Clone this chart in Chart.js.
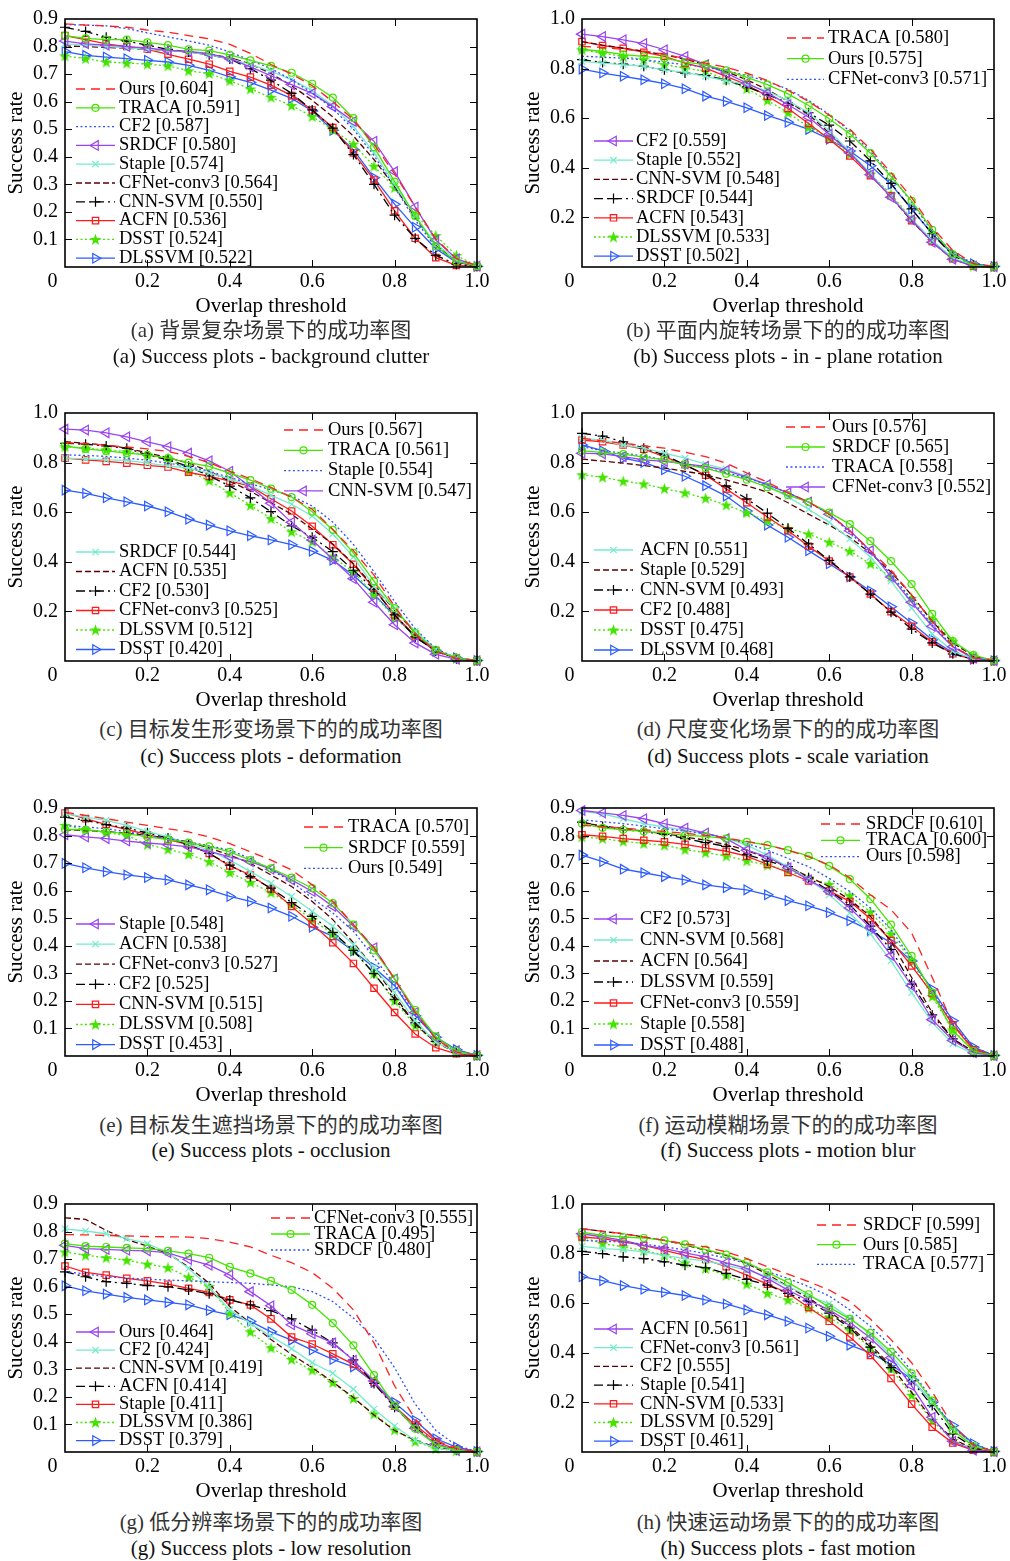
<!DOCTYPE html>
<html>
<head>
<meta charset="utf-8">
<script src="https://cdn.jsdelivr.net/npm/chart.js@4/dist/chart.umd.min.js"></script>
<style>
  body { margin: 0; background: #fff; width: 1010px; height: 1561px; position: relative; overflow: hidden; }
  canvas { position: absolute; }
  .cap { position: absolute; width: 412px; text-align: center; font-size: 21px; line-height: 26px; white-space: nowrap;
         font-family: "Liberation Serif", "Noto Sans CJK SC", serif; color: #111; }
  .zh { color: #333; }
</style>
</head>
<body>
<script>
// thresholds on the x axis
var thresholds = [0, 0.05, 0.1, 0.15, 0.2, 0.25, 0.3, 0.35, 0.4, 0.45, 0.5, 0.55, 0.6, 0.65, 0.7, 0.75, 0.8, 0.85, 0.9, 0.95, 1.0];

// (a) background clutter
var aNames = ['Ours', 'TRACA', 'CF2', 'SRDCF', 'Staple', 'CFNet-conv3', 'CNN-SVM', 'ACFN', 'DSST', 'DLSSVM'];
var aScores = ['0.604', '0.591', '0.587', '0.580', '0.574', '0.564', '0.550', '0.536', '0.524', '0.522'];
var aValues = [
  [0.882,0.878,0.875,0.870,0.860,0.852,0.840,0.828,0.808,0.775,0.735,0.700,0.658,0.600,0.535,0.445,0.338,0.218,0.102,0.030,0.005],
  [0.840,0.830,0.825,0.825,0.815,0.805,0.790,0.785,0.770,0.750,0.730,0.705,0.665,0.615,0.540,0.435,0.310,0.185,0.075,0.020,0.003],
  [0.880,0.878,0.875,0.865,0.850,0.835,0.820,0.805,0.780,0.750,0.720,0.680,0.632,0.575,0.500,0.405,0.290,0.170,0.072,0.020,0.004],
  [0.820,0.810,0.805,0.800,0.795,0.786,0.782,0.774,0.756,0.726,0.694,0.662,0.630,0.582,0.528,0.456,0.346,0.218,0.098,0.030,0.003],
  [0.810,0.805,0.800,0.795,0.790,0.785,0.780,0.770,0.755,0.735,0.710,0.680,0.640,0.585,0.510,0.415,0.300,0.185,0.085,0.025,0.003],
  [0.802,0.800,0.797,0.794,0.790,0.786,0.780,0.772,0.760,0.737,0.702,0.658,0.605,0.545,0.475,0.390,0.292,0.180,0.080,0.020,0.002],
  [0.870,0.855,0.834,0.820,0.805,0.790,0.780,0.770,0.755,0.720,0.678,0.630,0.570,0.504,0.408,0.300,0.188,0.104,0.042,0.010,0.002],
  [0.840,0.825,0.810,0.800,0.790,0.772,0.754,0.736,0.710,0.689,0.660,0.622,0.570,0.506,0.414,0.316,0.204,0.104,0.034,0.006,0.001],
  [0.766,0.756,0.744,0.740,0.736,0.730,0.712,0.702,0.676,0.646,0.616,0.586,0.546,0.498,0.446,0.366,0.288,0.192,0.114,0.042,0.004],
  [0.782,0.768,0.762,0.756,0.750,0.744,0.732,0.714,0.690,0.670,0.642,0.612,0.566,0.496,0.426,0.324,0.228,0.144,0.066,0.018,0.002]
];

// (b) in-plane rotation
var bNames = ['TRACA', 'Ours', 'CFNet-conv3', 'CF2', 'Staple', 'CNN-SVM', 'SRDCF', 'ACFN', 'DLSSVM', 'DSST'];
var bScores = ['0.580', '0.575', '0.571', '0.559', '0.552', '0.548', '0.544', '0.543', '0.533', '0.502'];
var bValues = [
  [0.890,0.885,0.878,0.870,0.858,0.840,0.822,0.805,0.782,0.752,0.712,0.668,0.612,0.555,0.475,0.380,0.280,0.160,0.067,0.013,0.002],
  [0.878,0.869,0.856,0.849,0.842,0.826,0.816,0.793,0.765,0.735,0.698,0.651,0.598,0.537,0.459,0.365,0.267,0.150,0.051,0.006,0.002],
  [0.850,0.846,0.842,0.835,0.826,0.816,0.806,0.790,0.772,0.748,0.717,0.672,0.615,0.548,0.466,0.370,0.260,0.145,0.055,0.015,0.002],
  [0.939,0.929,0.916,0.901,0.876,0.849,0.816,0.782,0.742,0.702,0.655,0.604,0.535,0.461,0.372,0.281,0.190,0.100,0.031,0.004,0.001],
  [0.829,0.822,0.816,0.809,0.795,0.785,0.769,0.751,0.735,0.709,0.671,0.622,0.548,0.465,0.377,0.283,0.194,0.107,0.036,0.007,0.001],
  [0.909,0.895,0.882,0.870,0.856,0.838,0.816,0.788,0.755,0.715,0.668,0.615,0.541,0.461,0.374,0.281,0.187,0.100,0.031,0.004,0.001],
  [0.836,0.825,0.818,0.809,0.795,0.782,0.773,0.753,0.726,0.695,0.662,0.622,0.572,0.508,0.428,0.337,0.234,0.134,0.047,0.007,0.001],
  [0.909,0.893,0.882,0.866,0.849,0.822,0.802,0.769,0.735,0.689,0.639,0.579,0.515,0.448,0.368,0.287,0.187,0.103,0.033,0.004,0.001],
  [0.876,0.862,0.849,0.836,0.816,0.802,0.789,0.755,0.719,0.672,0.622,0.564,0.521,0.455,0.374,0.294,0.194,0.107,0.037,0.004,0.001],
  [0.798,0.782,0.769,0.755,0.739,0.719,0.689,0.668,0.642,0.611,0.584,0.555,0.515,0.468,0.408,0.334,0.234,0.134,0.051,0.013,0.002]
];

// (c) deformation
var cNames = ['Ours', 'TRACA', 'Staple', 'CNN-SVM', 'SRDCF', 'ACFN', 'CF2', 'CFNet-conv3', 'DLSSVM', 'DSST'];
var cScores = ['0.567', '0.561', '0.554', '0.547', '0.544', '0.535', '0.530', '0.525', '0.512', '0.420'];
var cValues = [
  [0.880,0.876,0.870,0.863,0.855,0.845,0.825,0.800,0.765,0.735,0.700,0.660,0.612,0.530,0.445,0.346,0.220,0.110,0.040,0.010,0.002],
  [0.867,0.855,0.847,0.838,0.831,0.818,0.800,0.785,0.758,0.729,0.695,0.661,0.602,0.529,0.436,0.322,0.213,0.113,0.043,0.013,0.002],
  [0.831,0.829,0.825,0.818,0.810,0.798,0.785,0.765,0.740,0.715,0.690,0.665,0.625,0.560,0.470,0.360,0.240,0.130,0.050,0.012,0.002],
  [0.935,0.931,0.920,0.904,0.884,0.864,0.838,0.807,0.765,0.702,0.636,0.559,0.488,0.410,0.332,0.237,0.146,0.073,0.027,0.007,0.001],
  [0.818,0.815,0.811,0.809,0.798,0.787,0.778,0.758,0.734,0.707,0.668,0.632,0.585,0.512,0.420,0.300,0.210,0.120,0.047,0.013,0.002],
  [0.884,0.878,0.871,0.858,0.840,0.820,0.798,0.765,0.725,0.685,0.638,0.592,0.532,0.472,0.392,0.299,0.206,0.113,0.043,0.011,0.001],
  [0.878,0.874,0.867,0.858,0.831,0.811,0.785,0.747,0.705,0.658,0.602,0.545,0.499,0.441,0.366,0.290,0.186,0.097,0.040,0.009,0.001],
  [0.818,0.811,0.805,0.798,0.789,0.782,0.761,0.745,0.725,0.705,0.654,0.605,0.543,0.469,0.390,0.293,0.186,0.102,0.043,0.011,0.001],
  [0.864,0.858,0.851,0.844,0.831,0.818,0.765,0.727,0.678,0.628,0.574,0.521,0.481,0.419,0.359,0.269,0.173,0.106,0.043,0.011,0.001],
  [0.689,0.676,0.658,0.642,0.625,0.602,0.572,0.548,0.525,0.505,0.488,0.469,0.443,0.406,0.346,0.269,0.182,0.097,0.040,0.013,0.002]
];

// (d) scale variation
var dNames = ['Ours', 'SRDCF', 'TRACA', 'CFNet-conv3', 'ACFN', 'Staple', 'CNN-SVM', 'CF2', 'DSST', 'DLSSVM'];
var dScores = ['0.576', '0.565', '0.558', '0.552', '0.551', '0.529', '0.493', '0.488', '0.475', '0.468'];
var dValues = [
  [0.898,0.888,0.878,0.868,0.858,0.842,0.824,0.798,0.758,0.721,0.678,0.641,0.592,0.525,0.445,0.366,0.266,0.160,0.060,0.013,0.002],
  [0.848,0.840,0.834,0.822,0.811,0.791,0.778,0.755,0.731,0.701,0.669,0.641,0.598,0.552,0.483,0.403,0.310,0.190,0.080,0.024,0.002],
  [0.864,0.848,0.838,0.827,0.811,0.795,0.778,0.760,0.738,0.711,0.678,0.641,0.592,0.519,0.439,0.350,0.246,0.146,0.060,0.013,0.002],
  [0.838,0.835,0.824,0.811,0.805,0.795,0.785,0.769,0.741,0.711,0.678,0.641,0.592,0.525,0.445,0.339,0.237,0.140,0.057,0.011,0.001],
  [0.898,0.891,0.871,0.858,0.838,0.818,0.794,0.774,0.745,0.707,0.662,0.612,0.559,0.492,0.419,0.322,0.213,0.109,0.040,0.009,0.001],
  [0.814,0.806,0.798,0.788,0.778,0.765,0.751,0.730,0.707,0.681,0.638,0.592,0.548,0.499,0.435,0.359,0.266,0.160,0.073,0.020,0.002],
  [0.918,0.907,0.884,0.858,0.831,0.791,0.751,0.705,0.654,0.596,0.535,0.472,0.406,0.339,0.270,0.197,0.129,0.073,0.029,0.007,0.001],
  [0.891,0.884,0.871,0.854,0.824,0.791,0.749,0.694,0.638,0.581,0.525,0.463,0.403,0.339,0.270,0.199,0.140,0.077,0.029,0.007,0.001],
  [0.751,0.741,0.725,0.714,0.695,0.678,0.656,0.629,0.598,0.565,0.535,0.512,0.479,0.443,0.392,0.339,0.253,0.166,0.080,0.020,0.002],
  [0.871,0.848,0.818,0.801,0.771,0.745,0.707,0.665,0.605,0.548,0.499,0.445,0.392,0.339,0.282,0.219,0.153,0.086,0.033,0.007,0.001]
];

// (e) occlusion
var eNames = ['TRACA', 'SRDCF', 'Ours', 'Staple', 'ACFN', 'CFNet-conv3', 'CF2', 'CNN-SVM', 'DLSSVM', 'DSST'];
var eScores = ['0.570', '0.559', '0.549', '0.548', '0.538', '0.527', '0.525', '0.515', '0.508', '0.453'];
var eValues = [
  [0.885,0.873,0.861,0.849,0.837,0.825,0.813,0.795,0.771,0.741,0.711,0.675,0.621,0.561,0.477,0.393,0.279,0.158,0.062,0.014,0.002],
  [0.822,0.821,0.813,0.807,0.795,0.785,0.774,0.761,0.741,0.711,0.681,0.647,0.609,0.555,0.477,0.383,0.281,0.167,0.071,0.018,0.002],
  [0.837,0.831,0.825,0.814,0.801,0.789,0.777,0.763,0.747,0.717,0.675,0.633,0.573,0.519,0.453,0.357,0.261,0.152,0.068,0.020,0.002],
  [0.803,0.795,0.789,0.780,0.773,0.767,0.759,0.743,0.723,0.705,0.678,0.639,0.597,0.543,0.471,0.393,0.279,0.158,0.068,0.020,0.002],
  [0.879,0.867,0.855,0.837,0.815,0.795,0.771,0.747,0.711,0.669,0.627,0.579,0.525,0.471,0.405,0.321,0.230,0.128,0.050,0.014,0.002],
  [0.821,0.818,0.815,0.808,0.801,0.790,0.777,0.755,0.729,0.699,0.657,0.615,0.561,0.495,0.411,0.321,0.218,0.116,0.048,0.014,0.002],
  [0.867,0.855,0.840,0.827,0.810,0.791,0.767,0.735,0.693,0.651,0.609,0.557,0.507,0.449,0.383,0.299,0.206,0.120,0.053,0.014,0.002],
  [0.882,0.861,0.840,0.822,0.803,0.785,0.767,0.735,0.690,0.657,0.606,0.543,0.479,0.411,0.336,0.246,0.158,0.080,0.030,0.008,0.001],
  [0.837,0.822,0.810,0.801,0.767,0.750,0.732,0.705,0.666,0.630,0.593,0.549,0.495,0.443,0.383,0.299,0.200,0.110,0.050,0.014,0.002],
  [0.699,0.683,0.669,0.657,0.648,0.639,0.621,0.603,0.579,0.561,0.537,0.507,0.467,0.435,0.381,0.321,0.255,0.146,0.068,0.023,0.002]
];

// (f) motion blur
var fNames = ['SRDCF', 'TRACA', 'Ours', 'CF2', 'CNN-SVM', 'ACFN', 'DLSSVM', 'CFNet-conv3', 'Staple', 'DSST'];
var fScores = ['0.610', '0.600', '0.598', '0.573', '0.568', '0.564', '0.559', '0.559', '0.558', '0.488'];
var fValues = [
  [0.837,0.832,0.827,0.821,0.815,0.808,0.801,0.791,0.779,0.765,0.747,0.723,0.693,0.647,0.585,0.531,0.447,0.285,0.116,0.026,0.002],
  [0.843,0.828,0.821,0.815,0.810,0.801,0.797,0.789,0.777,0.765,0.747,0.726,0.690,0.642,0.570,0.477,0.363,0.230,0.092,0.018,0.002],
  [0.857,0.850,0.843,0.834,0.825,0.816,0.807,0.790,0.771,0.747,0.717,0.687,0.645,0.597,0.537,0.459,0.351,0.236,0.116,0.032,0.002],
  [0.891,0.882,0.873,0.861,0.843,0.827,0.809,0.789,0.747,0.723,0.683,0.639,0.597,0.537,0.465,0.365,0.255,0.132,0.056,0.012,0.001],
  [0.888,0.879,0.861,0.843,0.831,0.819,0.807,0.791,0.765,0.729,0.687,0.642,0.585,0.519,0.443,0.345,0.230,0.122,0.044,0.008,0.001],
  [0.846,0.835,0.825,0.816,0.807,0.795,0.783,0.767,0.747,0.717,0.687,0.651,0.615,0.567,0.507,0.417,0.285,0.158,0.062,0.017,0.002],
  [0.849,0.833,0.821,0.815,0.804,0.789,0.774,0.761,0.731,0.708,0.687,0.647,0.599,0.549,0.471,0.387,0.261,0.149,0.062,0.014,0.002],
  [0.803,0.797,0.789,0.783,0.777,0.768,0.755,0.743,0.725,0.695,0.666,0.635,0.599,0.561,0.498,0.419,0.327,0.227,0.113,0.023,0.002],
  [0.795,0.789,0.779,0.771,0.765,0.749,0.738,0.726,0.708,0.693,0.671,0.647,0.623,0.582,0.522,0.443,0.345,0.216,0.095,0.020,0.002],
  [0.729,0.705,0.678,0.665,0.651,0.639,0.621,0.611,0.603,0.585,0.564,0.545,0.521,0.491,0.455,0.411,0.345,0.242,0.128,0.032,0.002]
];

// (g) low resolution
var gNames = ['CFNet-conv3', 'TRACA', 'SRDCF', 'Ours', 'CF2', 'CNN-SVM', 'ACFN', 'Staple', 'DLSSVM', 'DSST'];
var gScores = ['0.555', '0.495', '0.480', '0.464', '0.424', '0.419', '0.414', '0.411', '0.386', '0.379'];
var gValues = [
  [0.789,0.788,0.786,0.784,0.782,0.781,0.780,0.774,0.762,0.744,0.714,0.687,0.651,0.594,0.516,0.396,0.240,0.120,0.042,0.012,0.002],
  [0.756,0.747,0.744,0.741,0.738,0.730,0.720,0.705,0.672,0.648,0.621,0.588,0.534,0.468,0.387,0.279,0.168,0.084,0.026,0.006,0.001],
  [0.654,0.646,0.636,0.631,0.627,0.624,0.621,0.618,0.615,0.612,0.606,0.600,0.582,0.546,0.486,0.414,0.306,0.174,0.078,0.024,0.002],
  [0.750,0.738,0.735,0.732,0.730,0.723,0.699,0.678,0.642,0.582,0.531,0.462,0.429,0.396,0.333,0.258,0.166,0.086,0.030,0.006,0.001],
  [0.810,0.802,0.792,0.774,0.756,0.723,0.666,0.598,0.516,0.466,0.420,0.375,0.324,0.286,0.228,0.156,0.094,0.042,0.014,0.004,0.001],
  [0.850,0.844,0.804,0.771,0.747,0.720,0.672,0.612,0.528,0.468,0.408,0.354,0.306,0.254,0.198,0.134,0.078,0.042,0.018,0.004,0.001],
  [0.654,0.636,0.618,0.612,0.604,0.600,0.588,0.574,0.552,0.534,0.513,0.483,0.442,0.396,0.334,0.249,0.162,0.090,0.030,0.006,0.001],
  [0.675,0.652,0.642,0.630,0.621,0.609,0.594,0.579,0.552,0.534,0.483,0.417,0.392,0.356,0.318,0.252,0.166,0.098,0.038,0.010,0.001],
  [0.726,0.714,0.705,0.696,0.682,0.669,0.634,0.600,0.504,0.436,0.378,0.336,0.297,0.252,0.194,0.138,0.080,0.038,0.012,0.004,0.001],
  [0.603,0.585,0.573,0.561,0.552,0.543,0.534,0.514,0.498,0.474,0.436,0.406,0.370,0.336,0.309,0.252,0.180,0.114,0.048,0.018,0.002]
];

// (h) fast motion
var hNames = ['SRDCF', 'Ours', 'TRACA', 'ACFN', 'CFNet-conv3', 'CF2', 'Staple', 'CNN-SVM', 'DLSSVM', 'DSST'];
var hScores = ['0.599', '0.585', '0.577', '0.561', '0.561', '0.555', '0.541', '0.533', '0.529', '0.461'];
var hValues = [
  [0.900,0.890,0.880,0.867,0.853,0.840,0.827,0.807,0.780,0.747,0.717,0.687,0.653,0.607,0.536,0.453,0.360,0.243,0.107,0.027,0.002],
  [0.887,0.873,0.867,0.863,0.853,0.837,0.816,0.796,0.764,0.724,0.683,0.636,0.583,0.537,0.480,0.404,0.317,0.207,0.089,0.023,0.002],
  [0.853,0.850,0.847,0.838,0.827,0.815,0.800,0.782,0.760,0.727,0.700,0.667,0.629,0.573,0.507,0.427,0.327,0.213,0.100,0.033,0.002],
  [0.880,0.867,0.853,0.833,0.820,0.803,0.787,0.763,0.740,0.700,0.653,0.611,0.573,0.523,0.460,0.380,0.267,0.140,0.043,0.007,0.001],
  [0.829,0.820,0.816,0.807,0.793,0.780,0.771,0.753,0.733,0.707,0.667,0.629,0.597,0.540,0.473,0.389,0.293,0.200,0.100,0.027,0.002],
  [0.900,0.890,0.880,0.867,0.853,0.835,0.813,0.793,0.760,0.717,0.667,0.620,0.567,0.507,0.433,0.347,0.240,0.133,0.053,0.013,0.001],
  [0.809,0.800,0.787,0.780,0.767,0.753,0.743,0.720,0.696,0.673,0.640,0.607,0.560,0.500,0.423,0.340,0.287,0.187,0.073,0.020,0.002],
  [0.867,0.860,0.847,0.833,0.813,0.793,0.776,0.747,0.713,0.677,0.640,0.583,0.527,0.464,0.389,0.297,0.193,0.100,0.036,0.007,0.001],
  [0.867,0.840,0.827,0.813,0.793,0.763,0.740,0.713,0.677,0.640,0.613,0.580,0.543,0.491,0.420,0.336,0.229,0.127,0.047,0.013,0.001],
  [0.707,0.691,0.671,0.656,0.644,0.631,0.613,0.597,0.573,0.553,0.527,0.500,0.467,0.431,0.400,0.353,0.293,0.200,0.107,0.033,0.002]
];

// green pentagram marker (MATLAB 'p')
function starImage(color) {
  var c = document.createElement('canvas');
  c.width = 13; c.height = 13;
  var g = c.getContext('2d');
  g.beginPath();
  for (var k = 0; k < 10; k++) {
    var r = k % 2 ? 2.5 : 6.2;
    var ang = -Math.PI / 2 + k * Math.PI / 5;
    var px = 6.5 + r * Math.cos(ang), py = 6.9 + r * Math.sin(ang);
    if (k) g.lineTo(px, py); else g.moveTo(px, py);
  }
  g.closePath();
  g.fillStyle = color;
  g.fill();
  return c;
}

var green = '#44e400';
// one style per legend rank
var lineStyles = [
  { color: '#ff2020', dash: [9, 6], point: 'circle', radius: 0 },
  { color: green, dash: [], point: 'circle', radius: 3.5 },
  { color: '#3050ff', dash: [2, 2.5], point: 'circle', radius: 0 },
  { color: '#9a44f0', dash: [], point: 'triangle', rot: -90, radius: 5.5 },
  { color: '#74eccb', dash: [], point: 'crossRot', radius: 4.5 },
  { color: '#5a0000', dash: [6, 3], point: 'circle', radius: 0 },
  { color: '#000000', dash: [9, 4, 2, 4], point: 'cross', radius: 5 },
  { color: '#ff1a1a', dash: [], point: 'rect', radius: 4.5 },
  { color: green, dash: [2, 2.5], point: starImage(green), radius: 5 },
  { color: '#2c5cff', dash: [], point: 'triangle', rot: 90, radius: 5.5 }
];

var panels = [
  { names: aNames, scores: aScores, values: aValues, yMax: 0.9, col: 0, row: 0,
    zh: '(a) 背景复杂场景下的成功率图', en: '(a) Success plots - background clutter',
    legend: [{ x: 11, len: 39, tx: 54, y: 70, dy: 18.8, from: 0, to: 10 }] },
  { names: bNames, scores: bScores, values: bValues, yMax: 1.0, col: 1, row: 0,
    zh: '(b) 平面内旋转场景下的的成功率图', en: '(b) Success plots - in - plane rotation',
    legend: [{ x: 205, len: 37, tx: 246, y: 19, dy: 20.7, from: 0, to: 3 },
             { x: 12, len: 39, tx: 54, y: 122, dy: 19.2, from: 3, to: 10 }] },
  { names: cNames, scores: cScores, values: cValues, yMax: 1.0, col: 0, row: 1,
    zh: '(c) 目标发生形变场景下的的成功率图', en: '(c) Success plots - deformation',
    legend: [{ x: 219, len: 39, tx: 263, y: 17, dy: 20.3, from: 0, to: 4 },
             { x: 11, len: 39, tx: 54, y: 139, dy: 19.5, from: 4, to: 10 }] },
  { names: dNames, scores: dScores, values: dValues, yMax: 1.0, col: 1, row: 1,
    zh: '(d) 尺度变化场景下的的成功率图', en: '(d) Success plots - scale variation',
    legend: [{ x: 204, len: 39, tx: 250, y: 14, dy: 20, from: 0, to: 4 },
             { x: 12, len: 39, tx: 58, y: 137, dy: 20, from: 4, to: 10 }] },
  { names: eNames, scores: eScores, values: eValues, yMax: 0.9, col: 0, row: 2,
    zh: '(e) 目标发生遮挡场景下的的成功率图', en: '(e) Success plots - occlusion',
    legend: [{ x: 239, len: 39, tx: 283, y: 19, dy: 20.7, from: 0, to: 3 },
             { x: 11, len: 39, tx: 54, y: 116, dy: 20.1, from: 3, to: 10 }] },
  { names: fNames, scores: fScores, values: fValues, yMax: 0.9, col: 1, row: 2,
    zh: '(f) 运动模糊场景下的的成功率图', en: '(f) Success plots - motion blur',
    legend: [{ x: 239, len: 39, tx: 284, y: 16, dy: 16.3, from: 0, to: 3 },
             { x: 12, len: 39, tx: 58, y: 111, dy: 21, from: 3, to: 10 }] },
  { names: gNames, scores: gScores, values: gValues, yMax: 0.9, col: 0, row: 3,
    zh: '(g) 低分辨率场景下的的成功率图', en: '(g) Success plots - low resolution',
    legend: [{ x: 206, len: 39, tx: 249, y: 14, dy: 16, from: 0, to: 3 },
             { x: 11, len: 39, tx: 54, y: 128, dy: 18.1, from: 3, to: 10 }] },
  { names: hNames, scores: hScores, values: hValues, yMax: 1.0, col: 1, row: 3,
    zh: '(h) 快速运动场景下的的成功率图', en: '(h) Success plots - fast motion',
    legend: [{ x: 235, len: 39, tx: 281, y: 21, dy: 19.7, from: 0, to: 3 },
             { x: 12, len: 39, tx: 58, y: 125, dy: 18.7, from: 3, to: 10 }] }
];

var canvasTops = [0, 394, 789, 1185];
var zhTops = [330, 729, 1125, 1522];
var enTops = [356, 756, 1150, 1548];
var serif = '"Liberation Serif", "Times New Roman", serif';

Chart.defaults.font.family = serif;
Chart.defaults.color = '#000';

// black box with inward ticks on all four sides
var framePlugin = {
  id: 'frame',
  afterDatasetsDraw: function(chart) {
    var ctx = chart.ctx, a = chart.chartArea, x = chart.scales.x, y = chart.scales.y;
    ctx.save();
    ctx.strokeStyle = '#000';
    ctx.lineWidth = 1;
    ctx.beginPath();
    x.ticks.forEach(function(t) {
      if (t.value <= 0.001 || t.value >= 0.999) return;
      var px = Math.round(x.getPixelForValue(t.value)) + 0.5;
      ctx.moveTo(px, a.bottom); ctx.lineTo(px, a.bottom - 7);
      ctx.moveTo(px, a.top); ctx.lineTo(px, a.top + 7);
    });
    y.ticks.forEach(function(t) {
      if (t.value <= 0.001 || t.value >= y.max - 0.001) return;
      var py = Math.round(y.getPixelForValue(t.value)) + 0.5;
      ctx.moveTo(a.left, py); ctx.lineTo(a.left + 7, py);
      ctx.moveTo(a.right, py); ctx.lineTo(a.right - 7, py);
    });
    ctx.stroke();
    ctx.lineWidth = 1.6;
    ctx.strokeRect(a.left, a.top, a.right - a.left, a.bottom - a.top);
    ctx.restore();
  }
};

// legend boxes inside the plot, two groups
var legendPlugin = {
  id: 'inLegend',
  afterDraw: function(chart, args, opts) {
    var ctx = chart.ctx, a = chart.chartArea;
    (opts.groups || []).forEach(function(g) {
      for (var i = g.from; i < g.to; i++) {
        var ds = chart.data.datasets[i];
        var yy = a.top + g.y + (i - g.from) * g.dy;
        var x0 = a.left + g.x;
        ctx.save();
        ctx.strokeStyle = ds.borderColor;
        ctx.lineWidth = ds.borderWidth;
        ctx.setLineDash(ds.borderDash || []);
        ctx.beginPath();
        ctx.moveTo(x0, yy);
        ctx.lineTo(x0 + g.len, yy);
        ctx.stroke();
        ctx.setLineDash([]);
        if (ds.pointRadius > 0 && Chart.helpers && Chart.helpers.drawPoint) {
          ctx.fillStyle = ds.pointBackgroundColor;
          ctx.strokeStyle = ds.pointBorderColor;
          ctx.lineWidth = ds.pointBorderWidth;
          Chart.helpers.drawPoint(ctx, {
            pointStyle: ds.pointStyle, rotation: ds.pointRotation,
            radius: ds.pointRadius, borderWidth: ds.pointBorderWidth
          }, x0 + g.len / 2, yy);
        }
        ctx.fillStyle = '#000';
        ctx.font = '18.5px ' + serif;
        ctx.textBaseline = 'middle';
        ctx.textAlign = 'left';
        ctx.fillText(ds.label, a.left + g.tx, yy);
        ctx.restore();
      }
    });
  }
};

function addCaption(text, cls, left, top) {
  var d = document.createElement('div');
  d.className = 'cap ' + cls;
  d.style.left = left + 'px';
  d.style.top = (top - 13) + 'px';
  d.textContent = text;
  document.body.appendChild(d);
}

panels.forEach(function(p) {
  var left = p.col ? 517 : 0;
  var canvas = document.createElement('canvas');
  canvas.width = 493;
  canvas.height = 319;
  canvas.style.left = left + 'px';
  canvas.style.top = canvasTops[p.row] + 'px';
  document.body.appendChild(canvas);

  var datasets = p.values.map(function(vals, i) {
    var s = lineStyles[i];
    return {
      label: p.names[i] + ' [' + p.scores[i] + ']',
      data: thresholds.map(function(t, k) { return { x: t, y: vals[k] }; }),
      borderColor: s.color,
      borderWidth: 1.3,
      borderDash: s.dash,
      pointStyle: s.point,
      pointRadius: s.radius,
      pointRotation: s.rot || 0,
      pointBorderColor: s.color,
      pointBackgroundColor: 'rgba(0,0,0,0)',
      pointBorderWidth: 1.2,
      pointHoverRadius: s.radius,
      tension: 0,
      fill: false,
      clip: false
    };
  });

  new Chart(canvas, {
    type: 'line',
    data: { datasets: datasets },
    plugins: [framePlugin, legendPlugin],
    options: {
      responsive: false,
      animation: false,
      devicePixelRatio: 1,
      events: [],
      layout: { padding: { left: 4, top: 17, right: 16, bottom: 0 } },
      plugins: {
        legend: { display: false },
        tooltip: { enabled: false },
        inLegend: { groups: p.legend }
      },
      scales: {
        x: {
          type: 'linear', min: 0, max: 1,
          grid: { display: false, drawTicks: false },
          border: { display: false },
          afterFit: function(s) { s.height = 52; },
          ticks: {
            stepSize: 0.2, autoSkip: false, maxRotation: 0, padding: 3,
            font: { size: 20 },
            // the corner "0" sits left of the axis, as in the original
            callback: function(v) { return Math.abs(v) < 1e-6 ? '0     ' : v.toFixed(1); }
          },
          title: { display: true, text: 'Overlap threshold', font: { size: 21 }, padding: 0 }
        },
        y: {
          type: 'linear', min: 0, max: p.yMax,
          grid: { display: false, drawTicks: false },
          border: { display: false },
          afterFit: function(s) { s.width = 61; },
          ticks: {
            stepSize: p.yMax < 0.95 ? 0.1 : 0.2, autoSkip: false, padding: 7,
            font: { size: 20 },
            callback: function(v) { return Math.abs(v) < 1e-6 ? '' : v.toFixed(1); }
          },
          title: { display: true, text: 'Success rate', font: { size: 21 }, padding: 0 }
        }
      }
    }
  });

  addCaption(p.zh, 'zh', left + 65, zhTops[p.row]);
  addCaption(p.en, 'en', left + 65, enTops[p.row]);
});
</script>
</body>
</html>
